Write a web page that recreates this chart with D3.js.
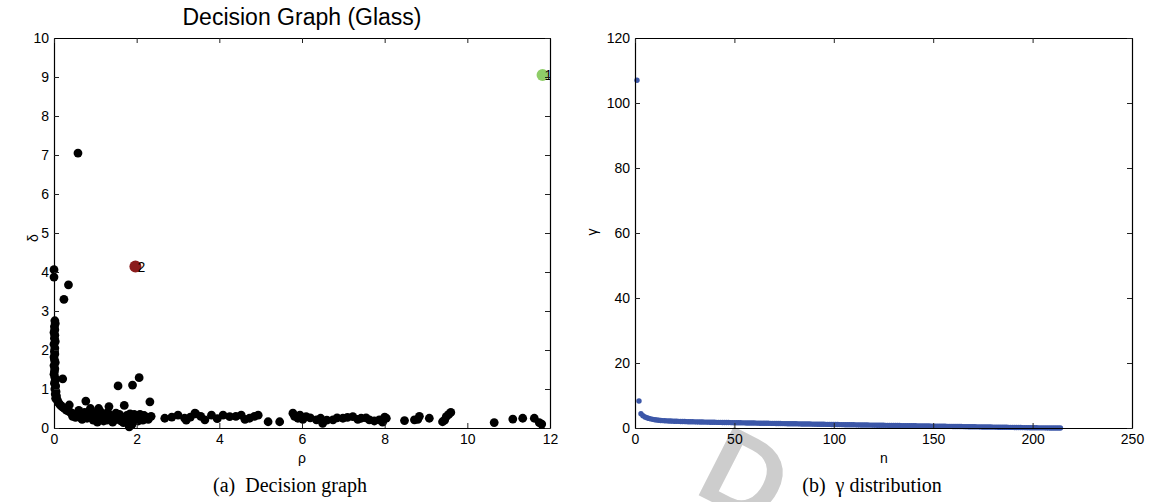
<!DOCTYPE html>
<html>
<head>
<meta charset="utf-8">
<script src="https://cdn.jsdelivr.net/npm/d3@7"></script>
<style>
  body { margin: 0; background: #fff; }
  svg { display: block; }
  text { font-family: "Liberation Sans", Arial, sans-serif; }
  .axis text { font-size: 14px; fill: #000; }
  .axis .domain { stroke: #000; stroke-width: 1.2; }
  .axis line { stroke: #222; }
</style>
</head>
<body>
<svg id="chart" width="1155" height="502"></svg>
<script>
// ---- data: decision graph (rho, delta) ----
const rho = [
  // column near rho = 0 and isolated points
  0.0, 0.0, 0.58, 0.35, 0.24, 0.02, 0.03, 0.01, 0.02, 0.0,
  0.02, 0.01, 0.03, 0.0, 0.02, 0.01, 0.02, 0.0, 0.01, 0.03,
  0.0, 0.02, 0.01, 0.0, 0.02, 0.03, 0.01, 0.04, 0.02, 0.05,
  0.03, 0.06, 0.04, 0.08, 0.1, 0.13, 0.16, 0.2, 0.25, 0.3,
  0.35, 0.4, 0.45, 0.5, 0.21,
  // dense band 0.3 - 3.5
  0.37, 0.55, 0.62, 0.7, 0.77, 0.8, 0.85, 0.9, 0.95, 1.0,
  1.02, 1.08, 1.1, 1.15, 1.2, 1.25, 1.3, 1.33, 1.38, 1.42,
  1.47, 1.52, 1.55, 1.58, 1.62, 1.66, 1.7, 1.72, 1.76, 1.8,
  1.82, 1.86, 1.9, 1.9, 1.94, 1.97, 2.0, 2.04, 2.06, 2.08,
  2.12, 2.18, 2.24, 2.32, 2.35, 2.68, 2.85, 3.0, 3.2, 3.43,
  0.6, 0.68, 0.74, 0.88, 0.92, 1.05, 1.12, 1.18, 1.28, 1.35,
  1.45, 1.5, 1.6, 1.68, 1.78, 1.84, 1.88, 2.02, 2.15, 2.28,
  0.52, 0.45,
  // bottom band 3 - 12
  3.16, 3.41, 3.65, 3.81, 4.09, 4.25, 4.53, 4.73, 4.94, 5.18,
  5.46, 5.78, 5.9, 6.1, 6.35, 6.5, 6.75, 6.99, 7.23, 7.43,
  7.63, 7.87, 8.04, 8.48, 8.72, 8.84, 9.08, 9.4, 9.49, 9.6,
  10.65, 11.1, 11.34, 11.62, 11.74,
  3.3, 3.55, 3.95, 4.4, 4.62, 4.85, 5.82, 5.95, 6.02, 6.2,
  6.45, 6.6, 6.85, 7.1, 7.35, 7.55, 7.75, 7.95, 8.0, 8.8,
  9.45, 9.55, 11.8
];
const delta = [
  4.06, 3.87, 7.05, 3.67, 3.3, 2.75, 2.68, 2.6, 2.52, 2.45,
  2.38, 2.3, 2.22, 2.15, 2.05, 1.97, 1.9, 1.82, 1.75, 1.68,
  1.6, 1.52, 1.45, 1.38, 1.3, 1.22, 1.15, 1.08, 1.0, 0.93,
  0.87, 0.82, 0.76, 0.72, 0.66, 0.62, 0.58, 0.54, 0.5, 0.46,
  0.43, 0.4, 0.37, 0.35, 1.26,
  0.59, 0.32, 0.28, 0.35, 0.69, 0.25, 0.42, 0.3, 0.2, 0.38,
  0.28, 0.5, 0.22, 0.33, 0.18, 0.28, 0.4, 0.55, 0.25, 0.15,
  0.3, 0.22, 1.08, 0.35, 0.18, 0.28, 0.58, 0.2, 0.32, 0.12,
  0.03, 0.25, 1.1, 0.15, 0.35, 0.22, 0.3, 0.18, 1.29, 0.35,
  0.25, 0.32, 0.28, 0.67, 0.3, 0.25, 0.28, 0.33, 0.2, 0.36,
  0.45, 0.22, 0.4, 0.5, 0.35, 0.15, 0.42, 0.26, 0.2, 0.32,
  0.24, 0.38, 0.26, 0.14, 0.24, 0.36, 0.08, 0.26, 0.2, 0.22,
  0.27, 0.3,
  0.25, 0.38, 0.21, 0.33, 0.33, 0.29, 0.33, 0.25, 0.33, 0.16,
  0.16, 0.38, 0.25, 0.29, 0.21, 0.12, 0.21, 0.25, 0.29, 0.25,
  0.21, 0.21, 0.25, 0.19, 0.21, 0.3, 0.25, 0.16, 0.29, 0.4,
  0.14, 0.23, 0.25, 0.25, 0.14,
  0.28, 0.3, 0.24, 0.3, 0.22, 0.3, 0.3, 0.33, 0.22, 0.26,
  0.25, 0.2, 0.26, 0.27, 0.22, 0.26, 0.18, 0.15, 0.28, 0.22,
  0.2, 0.35, 0.1
];
// cluster centres
const centerRho = [11.82, 1.97];
const centerDelta = [9.05, 4.14];
const centerLabels = ['1', '2'];

// ---- data: gamma distribution, sorted, n = 1..214 ----
const gamma = [
  107, 8.3, 4.4, 3.8, 3.4, 3.15, 2.95, 2.8, 2.66, 2.55,
  2.46, 2.39, 2.33, 2.28, 2.24, 2.2, 2.17, 2.14, 2.11, 2.09,
  2.06, 2.04, 2.02, 2.0, 1.98, 1.96, 1.94, 1.93, 1.91, 1.9,
  1.88, 1.87, 1.85, 1.84, 1.82, 1.81, 1.8, 1.78, 1.77, 1.76,
  1.74, 1.73, 1.72, 1.71, 1.69, 1.68, 1.67, 1.66, 1.65, 1.63,
  1.62, 1.61, 1.6, 1.59, 1.58, 1.56, 1.55, 1.54, 1.53, 1.52,
  1.51, 1.5, 1.48, 1.47, 1.46, 1.45, 1.44, 1.43, 1.42, 1.41,
  1.39, 1.38, 1.37, 1.36, 1.35, 1.34, 1.33, 1.32, 1.31, 1.3,
  1.29, 1.27, 1.26, 1.25, 1.24, 1.23, 1.22, 1.21, 1.2, 1.19,
  1.18, 1.17, 1.16, 1.15, 1.14, 1.13, 1.11, 1.1, 1.09, 1.08,
  1.07, 1.06, 1.05, 1.04, 1.03, 1.02, 1.01, 1.0, 0.99, 0.98,
  0.97, 0.96, 0.95, 0.94, 0.93, 0.92, 0.91, 0.9, 0.89, 0.88,
  0.87, 0.86, 0.85, 0.84, 0.83, 0.82, 0.81, 0.8, 0.79, 0.78,
  0.77, 0.76, 0.75, 0.74, 0.73, 0.72, 0.71, 0.7, 0.69, 0.68,
  0.67, 0.66, 0.65, 0.64, 0.63, 0.62, 0.61, 0.6, 0.59, 0.58,
  0.57, 0.56, 0.55, 0.54, 0.53, 0.52, 0.51, 0.5, 0.49, 0.48,
  0.47, 0.46, 0.45, 0.44, 0.43, 0.42, 0.41, 0.4, 0.39, 0.38,
  0.37, 0.36, 0.35, 0.34, 0.33, 0.32, 0.31, 0.3, 0.29, 0.28,
  0.27, 0.26, 0.25, 0.24, 0.23, 0.22, 0.21, 0.2, 0.19, 0.18,
  0.17, 0.16, 0.15, 0.14, 0.13, 0.12, 0.11, 0.1, 0.09, 0.08,
  0.07, 0.06, 0.05, 0.05, 0.04, 0.04, 0.03, 0.03, 0.02, 0.02,
  0.01, 0.01, 0.0, 0.0
];

// ticks
const rhoTicks = [0, 2, 4, 6, 8, 10, 12];
const deltaTicks = [0, 1, 2, 3, 4, 5, 6, 7, 8, 9, 10];
const nTicks = [0, 50, 100, 150, 200, 250];
const gammaTicks = [0, 20, 40, 60, 80, 100, 120];

let svg = d3.select('#chart');

// watermark behind everything
svg.append('text')
  .text('D')
  .attr('transform', 'translate(728,510) rotate(27)')
  .attr('text-anchor', 'middle')
  .style('font-size', '112px')
  .style('font-weight', 'bold')
  .style('fill', '#cdcdcd');

function boxAxes(g, x, y, w, h, xTicks, yTicks) {
  g.append('g')
    .attr('class', 'axis')
    .attr('transform', 'translate(0,' + h + ')')
    .call(d3.axisBottom(x).tickValues(xTicks).tickSizeInner(-5).tickSizeOuter(0).tickPadding(6));
  g.append('g')
    .attr('class', 'axis')
    .call(d3.axisLeft(y).tickValues(yTicks).tickSizeInner(-5).tickSizeOuter(0).tickPadding(5));
  g.append('g')
    .attr('class', 'axis')
    .call(d3.axisTop(x).tickValues(xTicks).tickSizeInner(-5).tickSizeOuter(0).tickFormat(''));
  g.append('g')
    .attr('class', 'axis')
    .attr('transform', 'translate(' + w + ',0)')
    .call(d3.axisRight(y).tickValues(yTicks).tickSizeInner(-5).tickSizeOuter(0).tickFormat(''));
}

// ---- left: decision graph ----
let left = { x: 54, y: 38, w: 496, h: 390 };
let xL = d3.scaleLinear().domain([0, 12]).range([0, left.w]);
let yL = d3.scaleLinear().domain([0, 10]).range([left.h, 0]);
let gL = svg.append('g').attr('transform', 'translate(' + left.x + ',' + left.y + ')');

gL.append('clipPath').attr('id', 'clipL')
  .append('rect').attr('width', left.w).attr('height', left.h);

gL.selectAll('circle.pt')
  .data(rho.map((r, i) => [r, delta[i]]))
  .enter()
  .append('circle')
  .attr('class', 'pt')
  .attr('cx', d => xL(d[0]))
  .attr('cy', d => yL(d[1]))
  .attr('r', 4.4)
  .attr('fill', '#000');

let centerColors = ['#8fcd68', '#8b1c1c'];
gL.selectAll('circle.center')
  .data(centerRho.map((r, i) => [r, centerDelta[i], centerLabels[i]]))
  .enter()
  .append('circle')
  .attr('class', 'center')
  .attr('cx', d => xL(d[0]))
  .attr('cy', d => yL(d[1]))
  .attr('r', 6)
  .attr('fill', (d, i) => centerColors[i]);

gL.selectAll('text.center')
  .data(centerRho.map((r, i) => [r, centerDelta[i], centerLabels[i]]))
  .enter()
  .append('text')
  .attr('class', 'center')
  .attr('clip-path', 'url(#clipL)')
  .attr('x', d => xL(d[0]) + 2)
  .attr('y', d => yL(d[1]) + 5)
  .text(d => d[2])
  .style('font-size', '14px')
  .style('fill', '#000');

boxAxes(gL, xL, yL, left.w, left.h, rhoTicks, deltaTicks);

svg.append('text')
  .attr('x', 302).attr('y', 25)
  .attr('text-anchor', 'middle')
  .style('font-size', '23px')
  .text('Decision Graph (Glass)');
svg.append('text')
  .attr('x', 302).attr('y', 463)
  .attr('text-anchor', 'middle')
  .style('font-size', '14px')
  .text('ρ');
svg.append('text')
  .attr('transform', 'translate(38,238) rotate(-90)')
  .attr('text-anchor', 'middle')
  .style('font-size', '14px')
  .text('δ');

// ---- right: gamma distribution ----
let right = { x: 635, y: 38, w: 497, h: 390 };
let xR = d3.scaleLinear().domain([0, 250]).range([0, right.w]);
let yR = d3.scaleLinear().domain([0, 120]).range([right.h, 0]);
let gR = svg.append('g').attr('transform', 'translate(' + right.x + ',' + right.y + ')');

gR.selectAll('circle')
  .data(gamma)
  .enter()
  .append('circle')
  .attr('cx', (d, i) => xR(i + 1))
  .attr('cy', d => yR(d))
  .attr('r', 2.7)
  .attr('fill', '#3c57a8');

boxAxes(gR, xR, yR, right.w, right.h, nTicks, gammaTicks);

svg.append('text')
  .attr('x', 884).attr('y', 463)
  .attr('text-anchor', 'middle')
  .style('font-size', '14px')
  .text('n');
svg.append('text')
  .attr('transform', 'translate(597,232) rotate(-90)')
  .attr('text-anchor', 'middle')
  .style('font-size', '14px')
  .text('γ');

// captions
svg.append('text')
  .attr('x', 290).attr('y', 492)
  .attr('text-anchor', 'middle')
  .style('font-family', '"Liberation Serif", "Times New Roman", serif')
  .style('font-size', '20px')
  .attr('xml:space', 'preserve')
  .text('(a)  Decision graph');
svg.append('text')
  .attr('x', 872).attr('y', 492)
  .attr('text-anchor', 'middle')
  .style('font-family', '"Liberation Serif", "Times New Roman", serif')
  .style('font-size', '20px')
  .attr('xml:space', 'preserve')
  .text('(b)  γ distribution');
</script>
</body>
</html>
